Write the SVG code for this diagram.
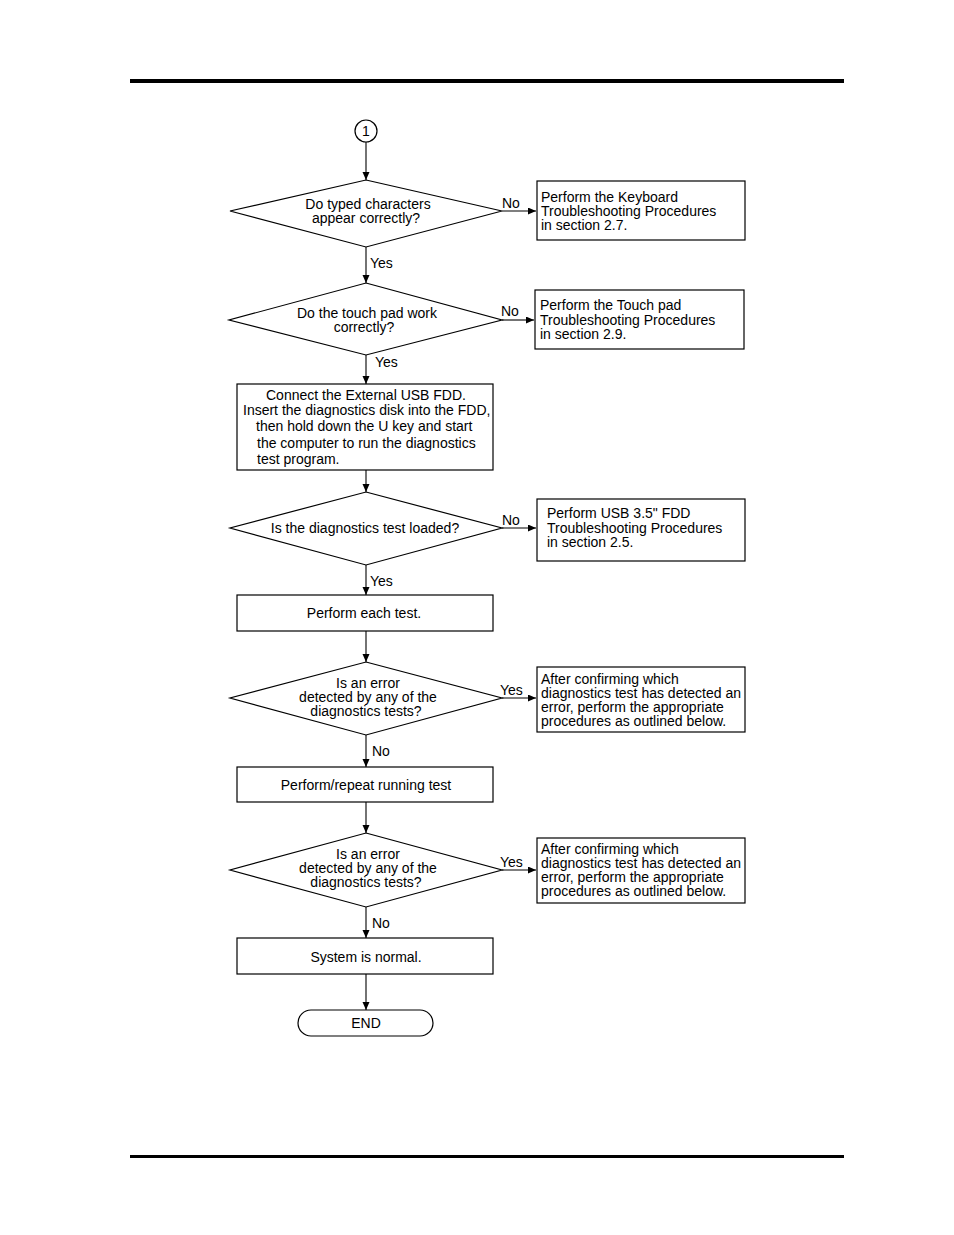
<svg xmlns="http://www.w3.org/2000/svg" width="954" height="1235" viewBox="0 0 954 1235">
<defs>
<marker id="ah" markerWidth="9" markerHeight="9" refX="8" refY="3.5" orient="auto" markerUnits="userSpaceOnUse">
<path d="M0,0 L8,3.5 L0,7 Z" fill="#000"/>
</marker>
</defs>
<style>
text{font-family:"Liberation Sans",Arial,sans-serif;font-size:14px;fill:#000}
.c{text-anchor:middle}
.s{fill:#fff;stroke:#000;stroke-width:1.2}
.l{stroke:#000;stroke-width:1.1;fill:none;marker-end:url(#ah)}
</style>
<rect width="954" height="1235" fill="#fff"/>
<rect x="130" y="79" width="714" height="4" fill="#000"/>
<rect x="130" y="1155" width="714" height="3" fill="#000"/>

<g id="start"><circle class="s" cx="366" cy="131" r="11"/><text class="c" x="366" y="136">1</text></g>

<g id="d1"><polygon class="s" points="366,180 502,211 366,247 230,211"/>
<text class="c" x="368" y="209">Do typed characters</text><text class="c" x="366" y="223">appear correctly?</text></g>
<g id="b1"><rect class="s" x="537" y="181" width="208" height="59"/>
<text x="541" y="202">Perform the Keyboard</text><text x="541" y="216">Troubleshooting Procedures</text><text x="541" y="230">in section 2.7.</text></g>

<g id="d2"><polygon class="s" points="366,283 502,320 366,355 229,320"/>
<text class="c" x="367" y="318">Do the touch pad work</text><text class="c" x="364" y="332">correctly?</text></g>
<g id="b2"><rect class="s" x="535" y="290" width="209" height="59"/>
<text x="540" y="310">Perform the Touch pad</text><text x="540" y="325">Troubleshooting Procedures</text><text x="540" y="339">in section 2.9.</text></g>

<g id="p1"><rect class="s" x="237" y="384" width="256" height="86"/>
<text class="c" x="366" y="400">Connect the External USB FDD.</text>
<text x="243" y="415">Insert the diagnostics disk into the FDD,</text>
<text x="256" y="431">then hold down the U key and start</text>
<text x="257" y="448">the computer to run the diagnostics</text>
<text x="257" y="464">test program.</text></g>

<g id="d3"><polygon class="s" points="366,492 502,528 366,565 230,528"/>
<text class="c" x="365" y="533">Is the diagnostics test loaded?</text></g>
<g id="b3"><rect class="s" x="537" y="499" width="208" height="62"/>
<text x="547" y="518">Perform USB 3.5" FDD</text><text x="547" y="533">Troubleshooting Procedures</text><text x="547" y="547">in section 2.5.</text></g>

<g id="p2"><rect class="s" x="237" y="595" width="256" height="36"/><text class="c" x="364" y="618">Perform each test.</text></g>

<g id="d4"><polygon class="s" points="366,662 502,698 366,735 230,698"/>
<text class="c" x="368" y="688">Is an error</text><text class="c" x="368" y="702">detected by any of the</text><text class="c" x="366" y="716">diagnostics tests?</text></g>
<g id="b4"><rect class="s" x="537" y="667" width="208" height="65"/>
<text x="541" y="684">After confirming which</text><text x="541" y="698">diagnostics test has detected an</text><text x="541" y="712">error, perform the appropriate</text><text x="541" y="726">procedures as outlined below.</text></g>

<g id="p3"><rect class="s" x="237" y="767" width="256" height="35"/><text class="c" x="366" y="790">Perform/repeat running test</text></g>

<g id="d5"><polygon class="s" points="366,833 502,870 366,907 230,870"/>
<text class="c" x="368" y="859">Is an error</text><text class="c" x="368" y="873">detected by any of the</text><text class="c" x="366" y="887">diagnostics tests?</text></g>
<g id="b5"><rect class="s" x="537" y="838" width="208" height="65"/>
<text x="541" y="854">After confirming which</text><text x="541" y="868">diagnostics test has detected an</text><text x="541" y="882">error, perform the appropriate</text><text x="541" y="896">procedures as outlined below.</text></g>

<g id="p4"><rect class="s" x="237" y="938" width="256" height="36"/><text class="c" x="366" y="962">System is normal.</text></g>

<g id="end"><rect class="s" x="298" y="1010" width="135" height="26" rx="13"/><text class="c" x="366" y="1028">END</text></g>

<g id="connectors">
<line class="l" x1="366" y1="142" x2="366" y2="180"/>
<line class="l" x1="502" y1="211" x2="536" y2="211"/>
<line class="l" x1="366" y1="247" x2="366" y2="283"/>
<line class="l" x1="502" y1="320" x2="534" y2="320"/>
<line class="l" x1="366" y1="355" x2="366" y2="384"/>
<line class="l" x1="366" y1="470" x2="366" y2="492"/>
<line class="l" x1="502" y1="528" x2="536" y2="528"/>
<line class="l" x1="366" y1="565" x2="366" y2="595"/>
<line class="l" x1="366" y1="631" x2="366" y2="662"/>
<line class="l" x1="502" y1="698" x2="536" y2="698"/>
<line class="l" x1="366" y1="735" x2="366" y2="767"/>
<line class="l" x1="366" y1="802" x2="366" y2="833"/>
<line class="l" x1="502" y1="870" x2="536" y2="870"/>
<line class="l" x1="366" y1="907" x2="366" y2="938"/>
<line class="l" x1="366" y1="974" x2="366" y2="1010"/>
<text x="502" y="208">No</text>
<text x="370" y="268">Yes</text>
<text x="501" y="316">No</text>
<text x="375" y="367">Yes</text>
<text x="502" y="525">No</text>
<text x="370" y="586">Yes</text>
<text x="500" y="695">Yes</text>
<text x="372" y="756">No</text>
<text x="500" y="867">Yes</text>
<text x="372" y="928">No</text>
</g>
</svg>
